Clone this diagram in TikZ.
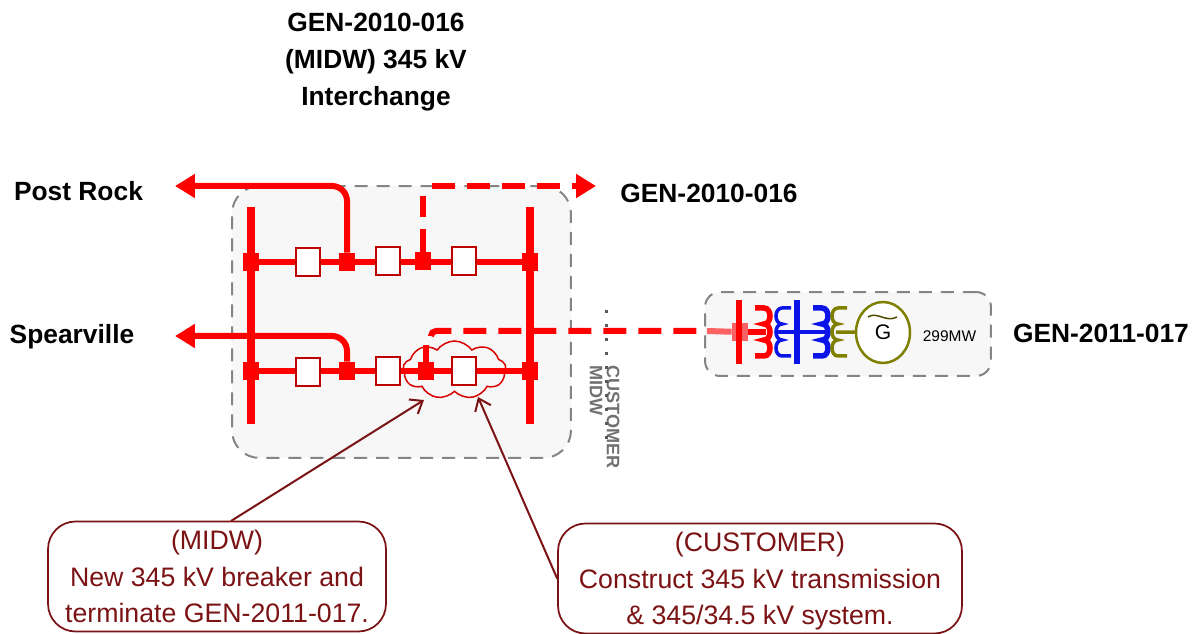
\documentclass[tikz,border=0pt]{standalone}
\usepackage{fontspec}
\setmainfont{Liberation Sans}
\usetikzlibrary{shapes.symbols, shapes.geometric, arrows.meta, positioning}
\definecolor{busred}{HTML}{FF0000}
\definecolor{notered}{HTML}{7B1214}
\definecolor{busblue}{HTML}{0A14E6}
\definecolor{genolive}{HTML}{808000}
\definecolor{zonegray}{HTML}{858585}
\definecolor{zonefill}{HTML}{F7F7F8}
\tikzset{
  zone/.style={rectangle, draw=zonegray, fill=zonefill, line width=0.4mm, dash pattern=on 2.6mm off 1.8mm},
  breaker/.style={rectangle, draw=busred!75!black, fill=white, line width=0.3mm, minimum width=0.48cm, minimum height=0.56cm, inner sep=0pt},
  junction/.style={rectangle, fill=busred, minimum width=0.32cm, minimum height=0.36cm, inner sep=0pt},
  bus/.style={draw=busred, line width=1.6mm},
  tie/.style={draw=busred, line width=1.2mm},
  feeder/.style={draw=busred, line width=1.2mm, rounded corners=0.3cm},
  future/.style={draw=busred, line width=1.2mm, dash pattern=on 4.6mm off 2.4mm, rounded corners=0.1cm},
  redtip/.style={-{Triangle[length=4mm, width=4.6mm]}},
  label/.style={font=\fontsize{15}{18}\selectfont\bfseries, align=center},
  note/.style={rectangle, rounded corners=0.55cm, draw=notered, line width=0.35mm, text=notered, fill=white, align=center, text depth=0pt, font=\fontsize{15.2}{20.7}\selectfont},
  pointer/.style={-{Straight Barb[length=2.2mm, width=3.4mm]}, draw=notered, line width=0.4mm},
  coil/.pic={
    \draw[pic actions] (-9,-24) -- (0,-24) .. controls (8,-24) and (8,-8) .. (0,-8)
      .. controls (8,-8) and (8,8) .. (0,8) .. controls (8,8) and (8,24) .. (0,24) -- (-9,24);
  }
}
\begin{document}
\begin{tikzpicture}[x=0.02cm, y=-0.02cm]
\useasboundingbox (0,0) rectangle (1194,634);

% Shaded areas
\node[zone, rounded corners=0.55cm, minimum width=6.78cm, minimum height=5.44cm] (midwzone) at (401.5,322) {};
\node[zone, rounded corners=0.3cm, minimum width=5.72cm, minimum height=1.68cm] (genzone) at (848,334) {};

% Titles
\node[label] (title) at (376,62) {GEN-2010-016\\[2.9pt](MIDW) 345 kV\\[2.9pt]Interchange};
\node[label] (postrock) at (78.5,191) {Post Rock};
\node[label] (spearville) at (72,337) {Spearville};
\node[label] (gen16) at (709,193) {GEN-2010-016};
\node[label] (gen17) at (1101,333) {GEN-2011-017};

% Scope cloud
\node[cloud, cloud puffs=9, cloud puff arc=110, aspect=1.8, draw=busred!85!black, line width=0.3mm, inner sep=0pt, minimum width=2.06cm, minimum height=1.16cm] (scope) at (454.5,370) {};

% Substation buses
\coordinate (lefttop) at (251,207);
\coordinate (leftbot) at (251,424);
\coordinate (righttop) at (530,207);
\coordinate (rightbot) at (530,424);
\draw[bus] (lefttop) -- (leftbot);
\draw[bus] (righttop) -- (rightbot);

% Junctions
\node[junction] (ja1) at (251,262) {};
\node[junction] (ja2) at (347,262) {};
\node[junction] (ja3) at (423,261) {};
\node[junction] (ja4) at (530,262) {};
\node[junction] (jb1) at (251,371) {};
\node[junction] (jb2) at (347,371) {};
\node[junction] (jb3) at (426,371) {};
\node[junction] (jb4) at (530,371) {};

% Ties between the buses
\draw[tie] (ja1) -- (ja4);
\draw[tie] (jb1) -- (jb4);

% Breakers
\node[breaker] (ba1) at (308,262) {};
\node[breaker] (ba2) at (388,261) {};
\node[breaker] (ba3) at (464,261) {};
\node[breaker] (bb1) at (308,372) {};
\node[breaker] (bb2) at (388,371) {};
\node[breaker] (bb3) at (464,371) {};

% Lines out of the substation
\coordinate (postend) at (175,186);
\coordinate (spearend) at (175,336);
\coordinate (genend) at (596,186);
\coordinate (topa) at (347,186);
\coordinate (topb) at (347,336);
\coordinate (dropa) at (423,196);
\coordinate (starta) at (432,186);
\coordinate (dropb) at (426,345);
\coordinate (startb) at (431,336);
\coordinate (cornerb) at (431,331);
\coordinate (endb) at (699,331);
\coordinate (fadeb) at (707,331);
\draw[feeder, redtip] (ja2) -- (topa) -- (postend);
\draw[feeder, redtip] (jb2) -- (topb) -- (spearend);
\draw[future] (ja3) -- (dropa);
\draw[future, redtip] (starta) -- (genend);

% Customer line into the generator bus
\coordinate (genbustop) at (739,300);
\coordinate (genbusbot) at (739,364);
\node[junction, fill opacity=0.6] (jgen) at (740,332) {};
\draw[future] (jb3) -- (dropb);
\draw[future] (startb) -- (cornerb) -- (endb);
\draw[draw=busred, opacity=0.6, line width=1.2mm] (fadeb) -- (jgen);

% Boundary between the owners
\node[rotate=-90, anchor=west, text=zonegray!85!black, font=\fontsize{10.3}{11}\selectfont\bfseries, inner sep=0pt] (customer) at (613,365) {CUSTOMER};
\node[rotate=-90, anchor=west, text=zonegray!85!black, font=\fontsize{10.3}{11}\selectfont\bfseries, inner sep=0pt] (midw) at (596,365) {MIDW};
\coordinate (limittop) at (606,310);
\coordinate (limitbot) at (606,440);
\draw[black!65, line width=0.6mm, dash pattern=on 0.6mm off 2.2mm] (limittop) -- (limitbot);

% Generator step-up
\draw[draw=busred, line width=1.1mm] (genbustop) -- (genbusbot);
\draw[draw=busred, line width=1.1mm] (jgen) -- (766,332);
\pic[draw=busred, line width=1.1mm] at (764,332) {coil};
\pic[draw=busblue, line width=0.7mm, xscale=-1] at (782,332) {coil};
\coordinate (bluetop) at (797,300);
\coordinate (bluebot) at (797,364);
\draw[draw=busblue, line width=1.1mm] (bluetop) -- (bluebot);
\draw[draw=busblue, line width=0.8mm] (778,332) -- (825,332);
\pic[draw=busblue, line width=1.1mm] at (822,332) {coil};
\pic[draw=genolive, line width=0.7mm, xscale=-1] at (838,332) {coil};
\node[ellipse, draw=genolive, fill=white, line width=0.5mm, minimum width=1.08cm, minimum height=1.22cm, inner sep=0pt, font=\fontsize{12}{12}\selectfont] (gen) at (883,332.5) {G};
\coordinate (swirlin) at (868,317);
\coordinate (swirlout) at (897,317);
\draw[draw=genolive!60!black, line width=0.3mm] (swirlin) .. controls (877,311) and (886,323) .. (swirlout);
\draw[draw=genolive, line width=0.7mm] (836,332) -- (gen);
\node[font=\fontsize{8.8}{10}\selectfont] (rating) at (949.5,336) {299MW};

% Notes
\node[note, minimum width=6.76cm, minimum height=2.2cm] (midwnote) at (217,576.5) {(MIDW)\\New 345 kV breaker and\\terminate GEN-2011-017.};
\node[note, minimum width=8.08cm, minimum height=2.2cm] (custnote) at (760,578.5) {(CUSTOMER)\\Construct 345 kV transmission\\\& 345/34.5 kV system.};
\coordinate (midwfoot) at (231,521);
\coordinate (midwtip) at (424,400);
\coordinate (custtip) at (478,397);
\draw[pointer] (midwfoot) -- (midwtip);
\draw[pointer] (custnote.west) -- (custtip);
\end{tikzpicture}
\end{document}
